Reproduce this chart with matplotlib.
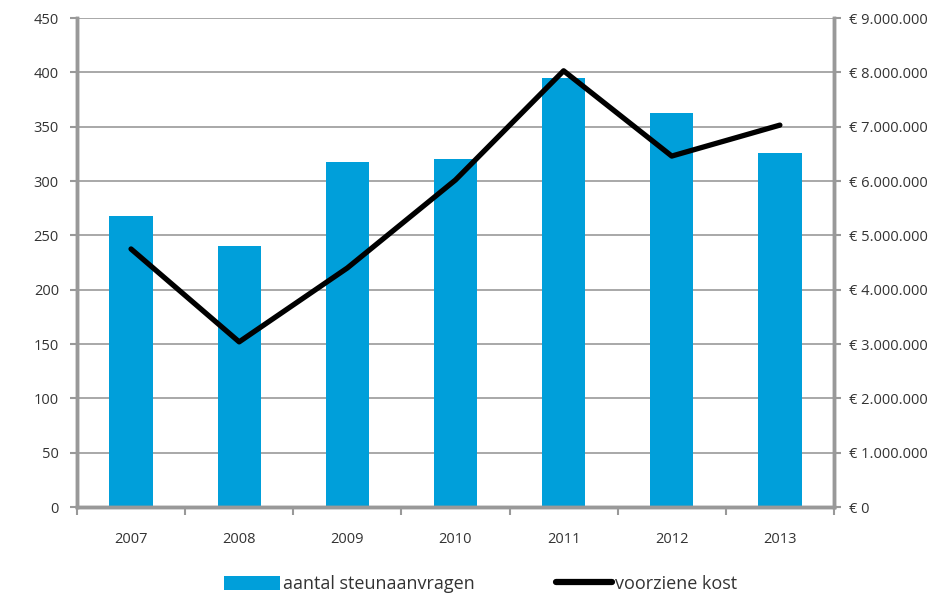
import matplotlib
matplotlib.use('Agg')
import matplotlib.pyplot as plt
import numpy as np
from matplotlib.lines import Line2D
from matplotlib.patches import Patch

years = ['2007', '2008', '2009', '2010', '2011', '2012', '2013']
aanvragen = [268, 240, 318, 320, 395, 363, 326]
kost = [4750000, 3040000, 4400000, 6020000, 8030000, 6460000, 7030000]

left_ticks = list(range(0, 451, 50))
right_ticks = list(range(0, 9000001, 1000000))

BLUE = '#009FDA'
GRID = '#999999'
TEXT = '#333333'

plt.rcParams['font.family'] = ['Open Sans', 'DejaVu Sans']

fig = plt.figure(figsize=(9.42, 5.93), dpi=100)
ax = fig.add_axes([0.0817, 0.145, 0.8036, 0.8245])
ax2 = ax.twinx()

x = np.arange(len(years))
ax.bar(x, aanvragen, width=0.4, color=BLUE, zorder=2)
ax2.plot(x, kost, color='black', lw=3.8, zorder=3, solid_capstyle='round')

ax.set_xlim(-0.5, len(years) - 0.5)
ax.set_ylim(0, 450)
ax2.set_ylim(0, 9000000)
ax.set_yticks(left_ticks)
ax2.set_yticks(right_ticks)

def euro(v):
    s = f"{int(v):,}".replace(',', '.')
    return f"€ {s}"

ax2.set_yticklabels([euro(v) for v in right_ticks])
ax.yaxis.grid(True, color=GRID, lw=1.2, zorder=0)
ax.set_axisbelow(True)

ax.set_xticks(x)
ax.set_xticklabels(years)
ax.set_xticks(np.arange(-0.5, len(years)), minor=True)
ax.tick_params(axis='x', which='major', length=0, pad=18, labelsize=10.5, labelcolor=TEXT)
ax.tick_params(axis='x', which='minor', length=6, width=1.5, color=GRID)
ax.tick_params(axis='y', length=5, width=1.5, color=GRID, labelsize=10.5, labelcolor=TEXT, pad=8)
ax2.tick_params(axis='y', length=5, width=1.5, color=GRID, labelsize=10.5, labelcolor=TEXT, pad=6)

for a in (ax, ax2):
    a.spines['top'].set_visible(False)
    for side in ('left', 'right', 'bottom'):
        a.spines[side].set_color(GRID)
        a.spines[side].set_linewidth(2.5)

handles = [Patch(facecolor=BLUE, edgecolor='none'),
           Line2D([0], [0], color='black', lw=4.5, solid_capstyle='round')]
fig.legend(handles, ['aantal steunaanvragen', 'voorziene kost'],
           loc='center', bbox_to_anchor=(0.51, 1 - 584 / 593), ncol=2, frameon=False,
           fontsize=13, handlelength=3.1, handleheight=0.8, handletextpad=0.15,
           columnspacing=4.5, labelcolor=TEXT)

fig.savefig('out.png', dpi=100)
